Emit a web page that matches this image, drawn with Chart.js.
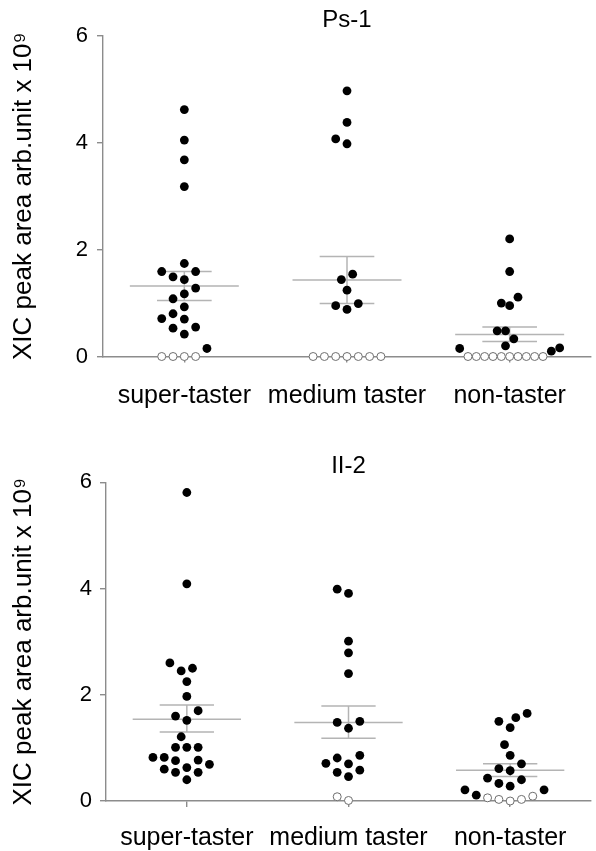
<!DOCTYPE html>
<html>
<head>
<meta charset="utf-8">
<script src="https://cdn.jsdelivr.net/npm/chart.js@4.4.1/dist/chart.umd.min.js"></script>
<style>
  html, body { margin: 0; padding: 0; background: #fff; }
  canvas { display: block; }
</style>
</head>
<body>
<canvas id="ps1" width="596" height="425"></canvas>
<canvas id="ii2" width="596" height="426"></canvas>
<script>
// categories and axis ticks
const categories = ['super-taster', 'medium taster', 'non-taster'];
const yTicks = [0, 2, 4, 6];
const yTitle = 'XIC peak area arb.unit x 10\u2079';

// Ps-1 : filled (detected) values per group, open (not detected) values, mean and SEM
const ps1Filled = [
  [4.62, 4.05, 3.68, 3.18, 1.74, 1.59, 1.59, 1.49, 1.44, 1.28, 1.17, 1.08, 0.93, 0.80, 0.70, 0.71, 0.53, 0.55, 0.42, 0.15],
  [4.97, 4.38, 4.07, 3.98, 1.54, 1.44, 1.24, 0.99, 0.95, 0.88],
  [2.20, 1.59, 1.11, 0.95, 1.00, 0.48, 0.48, 0.33, 0.20, 0.15, 0.10, 0.16]
];
const ps1Open = [
  [0, 0, 0, 0],
  [0, 0, 0, 0, 0, 0, 0],
  [0, 0, 0, 0, 0, 0, 0, 0, 0, 0]
];
const ps1Mean = [1.32, 1.43, 0.41];
const ps1SemLow = [1.05, 0.99, 0.28];
const ps1SemHigh = [1.59, 1.87, 0.55];

// II-2
const ii2Filled = [
  [5.81, 4.09, 2.60, 2.50, 2.45, 2.25, 1.97, 1.70, 1.60, 1.52, 1.21, 1.01, 1.01, 1.01, 0.82, 0.82, 0.77, 0.76, 0.69, 0.63, 0.60, 0.54, 0.54, 0.40],
  [3.99, 3.91, 3.01, 2.79, 2.40, 1.50, 1.48, 1.37, 0.86, 0.81, 0.70, 0.71, 0.58, 0.54, 0.46],
  [1.65, 1.57, 1.50, 1.38, 1.06, 0.86, 0.70, 0.61, 0.57, 0.43, 0.40, 0.33, 0.28, 0.21, 0.21, 0.11]
];
const ii2Open = [
  [],
  [0.01, 0.08],
  [0.09, 0.03, 0, 0.03, 0.06]
];
const ii2Mean = [1.54, 1.48, 0.58];
const ii2SemLow = [1.30, 1.18, 0.46];
const ii2SemHigh = [1.81, 1.79, 0.70];

const font = 'Liberation Sans, Arial, Helvetica, sans-serif';
const axisColor = '#8c8c8c';
const statColor = '#b4b4b4';

function makePanel(id, title, filledVals, openVals, mean, semLow, semHigh, g) {
  const filled = [], open = [];
  filledVals.forEach((vals, i) => vals.forEach(v => filled.push({ x: i + 1, y: v, cat: i })));
  openVals.forEach((vals, i) => vals.forEach(v => open.push({ x: i + 1, y: v, cat: i })));

  // mean line, SEM caps and SEM whisker
  const stats = [];
  mean.forEach((m, i) => {
    const c = i + 1;
    stats.push(
      { x: c - 0.335, y: m }, { x: c + 0.335, y: m }, { x: c, y: null },
      { x: c - 0.168, y: semHigh[i] }, { x: c + 0.168, y: semHigh[i] }, { x: c, y: null },
      { x: c - 0.168, y: semLow[i] }, { x: c + 0.168, y: semLow[i] }, { x: c, y: null },
      { x: c, y: semHigh[i] }, { x: c, y: semLow[i] }, { x: c, y: null }
    );
  });

  const chart = new Chart(document.getElementById(id), {
    type: 'scatter',
    data: {
      datasets: [
        { data: filled, pointRadius: 4.4, pointBackgroundColor: '#000', pointBorderWidth: 0, pointHoverRadius: 4.4, order: 1, clip: false },
        { data: open, pointRadius: 4, pointBackgroundColor: '#fff', pointBorderColor: '#6e6e6e', pointBorderWidth: 1, order: 2, clip: false },
        { data: stats, showLine: true, spanGaps: false, borderColor: statColor, borderWidth: 1.5, pointRadius: 0, order: 3 }
      ]
    },
    options: {
      responsive: false,
      animation: false,
      events: [],
      layout: { padding: { top: g.padTop, left: 0, right: 0, bottom: 0 } },
      plugins: {
        legend: { display: false },
        tooltip: { enabled: false },
        title: {
          display: true,
          fullSize: false,
          text: title,
          color: '#000',
          font: { family: font, size: 24, weight: 'normal' },
          padding: { top: g.titleTop, bottom: g.titleBottom }
        }
      },
      scales: {
        x: {
          type: 'linear',
          min: 0.5,
          max: 3.5,
          afterBuildTicks: s => { s.ticks = categories.map((_, i) => ({ value: i + 1 })); },
          afterFit: s => { s.height = g.xAxisHeight; },
          ticks: {
            callback: v => categories[v - 1],
            color: '#000',
            font: { family: font, size: 25 },
            padding: g.xLabelPad,
            maxRotation: 0,
            autoSkip: false
          },
          grid: { drawOnChartArea: false, drawTicks: true, tickLength: 6, color: axisColor, lineWidth: 1.4 },
          border: { color: axisColor, width: 1.4 }
        },
        y: {
          min: 0,
          max: 6,
          afterBuildTicks: s => { s.ticks = yTicks.map(v => ({ value: v })); },
          afterFit: s => { s.width = g.yAxisWidth; },
          ticks: { color: '#000', font: { family: font, size: 22 }, padding: g.yLabelPad },
          grid: { drawOnChartArea: false, drawTicks: true, tickLength: 6, color: axisColor, lineWidth: 1.4 },
          border: { color: axisColor, width: 1.4 },
          title: {
            display: true,
            text: yTitle,
            color: '#000',
            font: { family: font, size: 26 },
            padding: { top: 8.5, bottom: 0 }
          }
        }
      }
    }
  });

  swarm(chart, 11.3, 50);
  return chart;
}

// spread points of equal height sideways (beeswarm), measured in pixels through the scales
function swarm(chart, d, maxSpread) {
  const xs = chart.scales.x, ys = chart.scales.y;
  const unit = xs.getPixelForValue(2) - xs.getPixelForValue(1);
  const all = [];
  [0, 1].forEach(si => chart.data.datasets[si].data.forEach(p => all.push({ p, si })));

  function place(group) {
    const placed = [];
    const step = d / 2;
    return group.map(item => {
      const py = ys.getPixelForValue(item.p.y);
      for (let k = 0; k < 200; k++) {
        const off = (k % 2 ? -1 : 1) * Math.ceil(k / 2) * step;
        const ok = placed.every(q => (q.x - off) ** 2 + (q.y - py) ** 2 >= (d - 0.01) ** 2);
        if (ok) {
          placed.push({ x: off, y: py });
          return off;
        }
      }
      return 0;
    });
  }

  const newSets = [[], []];
  categories.forEach((_, ci) => {
    const group = all.filter(it => it.p.cat === ci).sort((a, b) => a.p.y - b.p.y);
    const offs = place(group);
    const widest = Math.max(0, ...offs.map(Math.abs));
    const squeeze = widest > maxSpread ? maxSpread / widest : 1;
    group.forEach((it, k) => {
      newSets[it.si].push({ x: ci + 1 + offs[k] * squeeze / unit, y: it.p.y, cat: ci });
    });
  });
  chart.data.datasets[0].data = newSets[0];
  chart.data.datasets[1].data = newSets[1];
  chart.update('none');
}

makePanel('ps1', 'Ps-1', ps1Filled, ps1Open, ps1Mean, ps1SemLow, ps1SemHigh,
  { padTop: 0, titleTop: 6, titleBottom: 1, xAxisHeight: 68.5, yAxisWidth: 103, yLabelPad: 9, xLabelPad: 19 });
makePanel('ii2', 'II-2', ii2Filled, ii2Open, ii2Mean, ii2SemLow, ii2SemHigh,
  { padTop: 21, titleTop: 6, titleBottom: 1.6, xAxisHeight: 50, yAxisWidth: 106, yLabelPad: 8, xLabelPad: 16 });
</script>
</body>
</html>
